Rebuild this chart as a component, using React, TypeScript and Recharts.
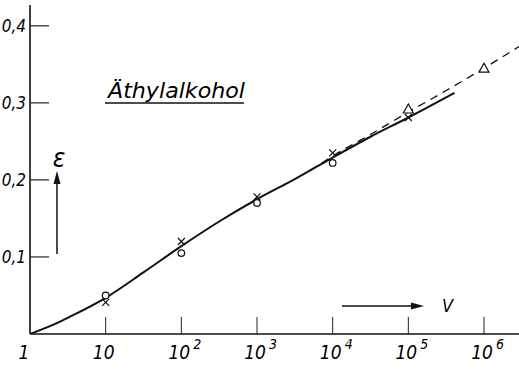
import { ComposedChart, Line, Scatter, XAxis, YAxis } from 'recharts'

// ε gegen V (log), Äthylalkohol
const solidV = [1, 2.5, 3.16, 10, 31.6, 100, 316, 1000, 3162, 10000, 31623, 100000, 407000]
const solidE = [0, 0.016, 0.021, 0.047, 0.08, 0.114, 0.146, 0.175, 0.201, 0.229, 0.256, 0.281, 0.313]

const dashV = [5000, 10000, 31623, 100000, 316228, 1000000, 2900000]
const dashE = [0.212, 0.231, 0.259, 0.288, 0.316, 0.345, 0.373]

const circleV = [10, 100, 1000, 10000]
const circleE = [0.05, 0.105, 0.17, 0.222]

const crossV = [10, 100, 1000, 10000, 100000]
const crossE = [0.041, 0.12, 0.178, 0.235, 0.281]

const triV = [100000, 1000000]
const triE = [0.292, 0.345]

const xTicks = [1, 10, 100, 1000, 10000, 100000, 1000000]
const xExp = ['', '', '2', '3', '4', '5', '6']
const yTicks = [0.1, 0.2, 0.3, 0.4]
const yLabels = ['0,1', '0,2', '0,3', '0,4']

const zip = (vs: number[], es: number[]) => vs.map((v, i) => ({ v, e: es[i] }))

const FONT = '"DejaVu Sans Condensed", "DejaVu Sans", sans-serif'

function XTick({ x, y, payload }: any) {
  const i = xTicks.indexOf(payload.value)
  if (i === 0) {
    return (
      <text x={x - 6} y={y + 25} textAnchor="middle" fontFamily={FONT} fontStyle="italic" fontSize={19}>
        1
      </text>
    )
  }
  return (
    <g>
      <line x1={x} x2={x} y1={y - 17} y2={y} stroke="#222" strokeWidth={1} />
      <text x={x - 2} y={y + 25} textAnchor="middle" fontFamily={FONT} fontStyle="italic" fontSize={19}>
        10
      </text>
      {xExp[i] && (
        <text x={x + 12} y={y + 15} fontFamily={FONT} fontStyle="italic" fontSize={14}>
          {xExp[i]}
        </text>
      )}
    </g>
  )
}

function YTick({ x, y, payload }: any) {
  const i = yTicks.indexOf(payload.value)
  return (
    <g>
      <line x1={x} x2={x + 19} y1={y} y2={y} stroke="#222" strokeWidth={1.2} />
      <text x={x - 4} y={y + 6} textAnchor="end" fontFamily={FONT} fontStyle="italic" fontSize={17}>
        {yLabels[i]}
      </text>
    </g>
  )
}

const circleShape = (p: any) => <circle cx={p.cx} cy={p.cy} r={3.3} fill="#fff" stroke="#111" strokeWidth={1.2} />
const crossShape = (p: any) => (
  <path
    d={`M${p.cx - 3.5},${p.cy - 3.5}L${p.cx + 3.5},${p.cy + 3.5}M${p.cx + 3.5},${p.cy - 3.5}L${p.cx - 3.5},${p.cy + 3.5}`}
    stroke="#111"
    strokeWidth={1.2}
  />
)
const triShape = (p: any) => (
  <path
    d={`M${p.cx},${p.cy - 5}L${p.cx + 5},${p.cy + 4}L${p.cx - 5},${p.cy + 4}Z`}
    fill="#fff"
    stroke="#111"
    strokeWidth={1.2}
  />
)

export default function App() {
  return (
    <div style={{ position: 'absolute', left: 0, top: 0, width: 519, height: 370, background: '#fff' }}>
      <ComposedChart width={519} height={370} margin={{ top: 5, right: 0, bottom: 0, left: 0 }}>
        <XAxis
          dataKey="v"
          type="number"
          scale="log"
          domain={[1, 2900000]}
          ticks={xTicks}
          height={36}
          tickSize={0}
          tickMargin={0}
          tick={<XTick />}
          axisLine={{ stroke: '#111', strokeWidth: 1.6 }}
          allowDataOverflow
        />
        <YAxis
          type="number"
          domain={[0, 0.427]}
          ticks={yTicks}
          width={30}
          tickSize={0}
          tickMargin={0}
          tick={<YTick />}
          axisLine={{ stroke: '#111', strokeWidth: 1.6 }}
          allowDataOverflow
        />
        <Line
          data={zip(solidV, solidE)}
          dataKey="e"
          type="monotone"
          stroke="#111"
          strokeWidth={2}
          dot={false}
          isAnimationActive={false}
        />
        <Line
          data={zip(dashV, dashE)}
          dataKey="e"
          type="monotone"
          stroke="#111"
          strokeWidth={1.3}
          strokeDasharray="8 6"
          dot={false}
          isAnimationActive={false}
        />
        <Scatter data={zip(circleV, circleE)} dataKey="e" shape={circleShape} isAnimationActive={false} />
        <Scatter data={zip(crossV, crossE)} dataKey="e" shape={crossShape} isAnimationActive={false} />
        <Scatter data={zip(triV, triE)} dataKey="e" shape={triShape} isAnimationActive={false} />
      </ComposedChart>
      <svg width={519} height={370} style={{ position: 'absolute', left: 0, top: 0, pointerEvents: 'none' }}>
        <text x={108} y={98} fontFamily={FONT} fontStyle="italic" fontSize={22} textLength={137} lengthAdjust="spacingAndGlyphs">
          Äthylalkohol
        </text>
        <line x1={105} x2={244} y1={103} y2={103} stroke="#111" strokeWidth={1.5} />
        <text x={59} y={167} textAnchor="middle" fontFamily={FONT} fontStyle="italic" fontSize={26}>
          ε
        </text>
        <line x1={57} x2={57} y1={254} y2={180} stroke="#111" strokeWidth={1.5} />
        <path d="M57,171L60.5,184L53.5,184Z" fill="#111" />
        <line x1={342} x2={414} y1={306} y2={306} stroke="#111" strokeWidth={1.5} />
        <path d="M424,306L411,302.5L411,309.5Z" fill="#111" />
        <text x={442} y={312} fontFamily={FONT} fontStyle="italic" fontSize={18}>
          V
        </text>
      </svg>
    </div>
  )
}
